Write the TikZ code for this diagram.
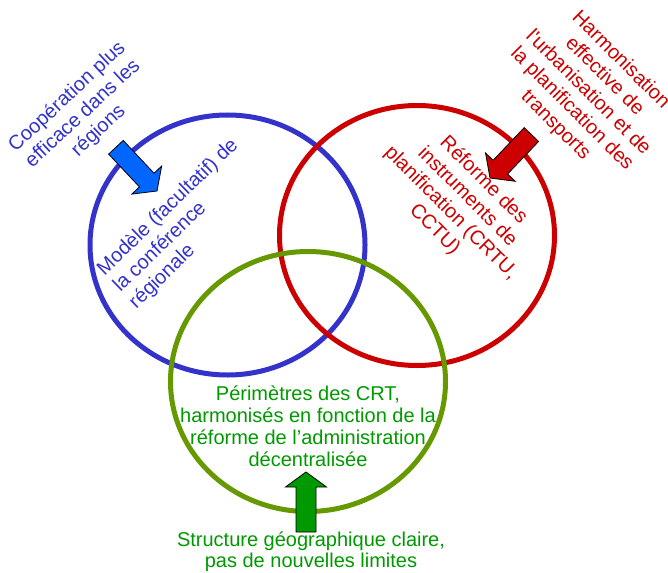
\documentclass[tikz,border=0pt]{standalone}
\usepackage{fontspec}
\setmainfont{Liberation Sans}
\definecolor{blueC}{RGB}{51,51,204}
\definecolor{redC}{RGB}{204,0,0}
\definecolor{greenC}{RGB}{102,153,0}
\definecolor{greenT}{RGB}{0,153,0}
\definecolor{arrowBlue}{RGB}{0,102,255}
\newcommand{\blockarrow}[3]{% #1 tip, #2 angle, #3 fill colour
  \begin{scope}[shift={#1}, rotate=#2]
    \filldraw[fill=#3, draw=black, line width=0.8pt, line join=miter]
      (-60,-10) -- (-15,-10) -- (-15,-20.5) -- (0,0) -- (-15,20.5) -- (-15,10) -- (-60,10) -- cycle;
  \end{scope}}
\begin{document}
\begin{tikzpicture}[x=1pt,y=-1pt,
  ring/.style={line width=5pt},
  label/.style={inner sep=0pt, font=\fontsize{20}{23}\selectfont},
  ]
\useasboundingbox (0,0) rectangle (668,572);
% circles
\draw[ring, blueC]  (227.5,245) ellipse [x radius=137.5pt, y radius=130pt];
\draw[ring, redC]   (417,235.5) ellipse [x radius=137.5pt, y radius=130pt];
\draw[ring, greenC] (308,381.5) ellipse [x radius=137.5pt, y radius=130pt];
% arrows
\blockarrow{(157,191)}{-46.8}{arrowBlue}
\blockarrow{(490,178)}{-133.6}{redC}
\blockarrow{(306,472)}{90}{greenT}
% texts
\node[label, text=blueC, rotate=43, align=center] (coop) at (83,114)
  {Coopération plus\\efficace dans les\\régions};
\node[label, text=blueC, rotate=44, align=left] (modele) at (184,224)
  {Modèle (facultatif) de\\la conférence\\régionale};
\node[label, text=redC, rotate=-45, align=center] (harmon) at (588,93)
  {Harmonisation\\effective de\\l\textquotesingle urbanisation et de\\la planification des\\transports};
\node[label, text=redC, rotate=-45, align=center] (reforme) at (459,205)
  {Réforme des\\instruments de\\planification (CRTU,\\CCTU)};
\node[label, text=greenT, align=center, font=\fontsize{20}{22}\selectfont] (perim) at (308,426)
  {Périmètres des CRT,\\harmonisés en fonction de la\\réforme de l’administration\\décentralisée};
\node[label, text=greenT, align=center, font=\fontsize{20}{21}\selectfont] (struct) at (311,552)
  {Structure géographique claire,\\pas de nouvelles limites};
\end{tikzpicture}
\end{document}
